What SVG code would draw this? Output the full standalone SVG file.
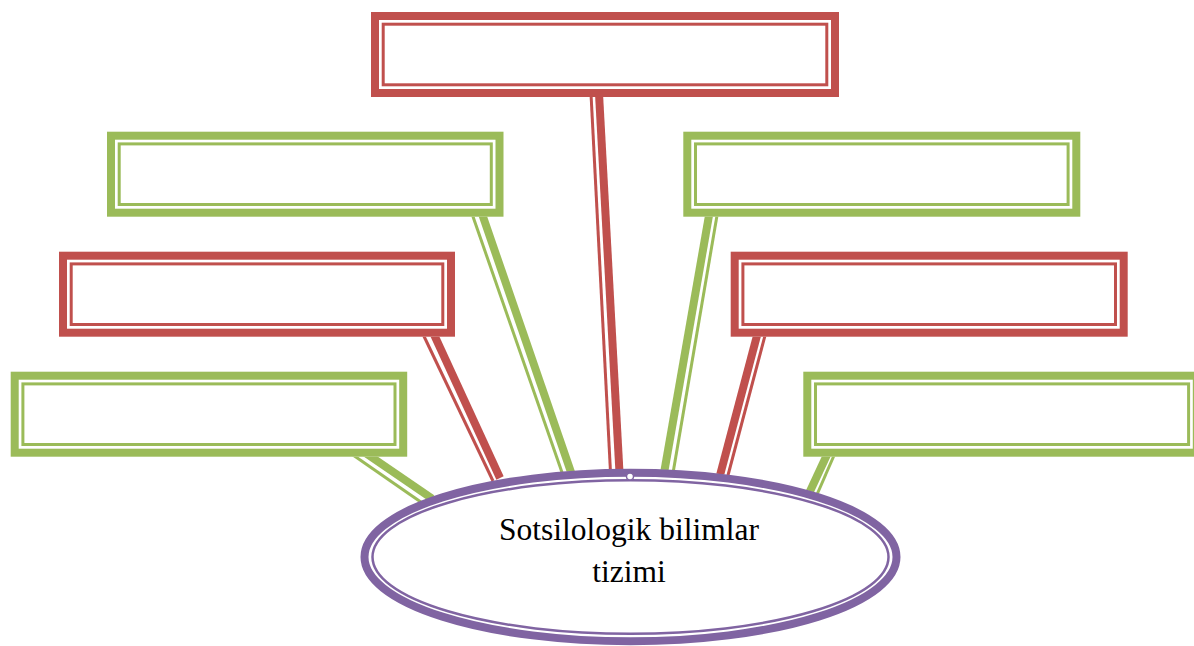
<svg xmlns="http://www.w3.org/2000/svg" width="1194" height="646" viewBox="0 0 1194 646">
<style>
.red .thick{stroke:#C0504D}
.green .thick{stroke:#9BBB59}
.thick{stroke-width:8;fill:none}
.thin{stroke-width:3;fill:none}
.red .thin{stroke:#C0504D}
.green .thin{stroke:#9BBB59}
.box .fill{fill:#FFFFFF;stroke:none}
.lbl{font-family:"Liberation Serif","Times New Roman",serif;font-size:31.5px;fill:#000;text-anchor:middle}
</style>
<rect width="1194" height="646" fill="#FFFFFF"/>
<g id="connectors">
  <g class="red"><line class="thick" x1="598.7" y1="88" x2="620" y2="482"/><line class="thin" x1="590.7" y1="88" x2="611" y2="482"/></g>
  <g class="green"><line class="thick" x1="480" y1="208" x2="573" y2="478"/><line class="thin" x1="470" y1="208" x2="565" y2="481"/></g>
  <g class="red"><line class="thick" x1="431" y1="328" x2="500" y2="478"/><line class="thin" x1="421" y1="330" x2="493" y2="481"/></g>
  <g class="green"><line class="thick" x1="345" y1="439" x2="432" y2="498.5"/><line class="thin" x1="340" y1="446" x2="428" y2="507"/></g>
  <g class="green"><line class="thick" x1="710.3" y1="208" x2="663" y2="479"/><line class="thin" x1="718.3" y1="208" x2="672" y2="479"/></g>
  <g class="red"><line class="thick" x1="759" y1="328" x2="719" y2="479"/><line class="thin" x1="767" y1="328" x2="727" y2="479"/></g>
  <g class="green"><line class="thick" x1="832" y1="444" x2="805" y2="502"/><line class="thin" x1="839" y1="444" x2="812" y2="506"/></g>
</g>
<g id="box-top" class="box red">
  <rect class="fill" x="371" y="12" width="468" height="85"/>
  <rect class="thick" x="375" y="16" width="460" height="77"/>
  <rect class="thin" x="383.2" y="24.2" width="443.6" height="60.6"/>
</g>
<g id="box-left-1" class="box green">
  <rect class="fill" x="107" y="131.7" width="396.5" height="85"/>
  <rect class="thick" x="111" y="135.7" width="388.5" height="77"/>
  <rect class="thin" x="119.2" y="143.9" width="372.1" height="60.6"/>
</g>
<g id="box-right-1" class="box green">
  <rect class="fill" x="683.3" y="131.7" width="397" height="85"/>
  <rect class="thick" x="687.3" y="135.7" width="389" height="77"/>
  <rect class="thin" x="695.5" y="143.9" width="372.6" height="60.6"/>
</g>
<g id="box-left-2" class="box red">
  <rect class="fill" x="59" y="251.7" width="396" height="85"/>
  <rect class="thick" x="63" y="255.7" width="388" height="77"/>
  <rect class="thin" x="71.2" y="263.9" width="371.6" height="60.6"/>
</g>
<g id="box-right-2" class="box red">
  <rect class="fill" x="730.7" y="251.7" width="397" height="85"/>
  <rect class="thick" x="734.7" y="255.7" width="389" height="77"/>
  <rect class="thin" x="742.9" y="263.9" width="372.6" height="60.6"/>
</g>
<g id="box-left-3" class="box green">
  <rect class="fill" x="10.7" y="371.7" width="396.5" height="85"/>
  <rect class="thick" x="14.7" y="375.7" width="388.5" height="77"/>
  <rect class="thin" x="22.9" y="383.9" width="372.1" height="60.6"/>
</g>
<g id="box-right-3" class="box green">
  <rect class="fill" x="803.3" y="371.7" width="397.5" height="85"/>
  <rect class="thick" x="807.3" y="375.7" width="389.5" height="77"/>
  <rect class="thin" x="815.5" y="383.9" width="373.1" height="60.6"/>
</g>
<g id="center-node">
  <ellipse cx="630.5" cy="557" rx="270" ry="88" fill="#FFFFFF"/>
  <ellipse cx="630.5" cy="557" rx="266" ry="84.3" fill="none" stroke="#8064A2" stroke-width="8"/>
  <ellipse cx="630.5" cy="557" rx="258" ry="76.8" fill="none" stroke="#8064A2" stroke-width="2.5"/>
  <circle cx="630" cy="476.5" r="3.5" fill="#FFFFFF" stroke="#8064A2" stroke-width="1.5"/>
  <text class="lbl" x="629" y="540">Sotsilologik bilimlar</text>
  <text class="lbl" x="629" y="582">tizimi</text>
</g>
</svg>
